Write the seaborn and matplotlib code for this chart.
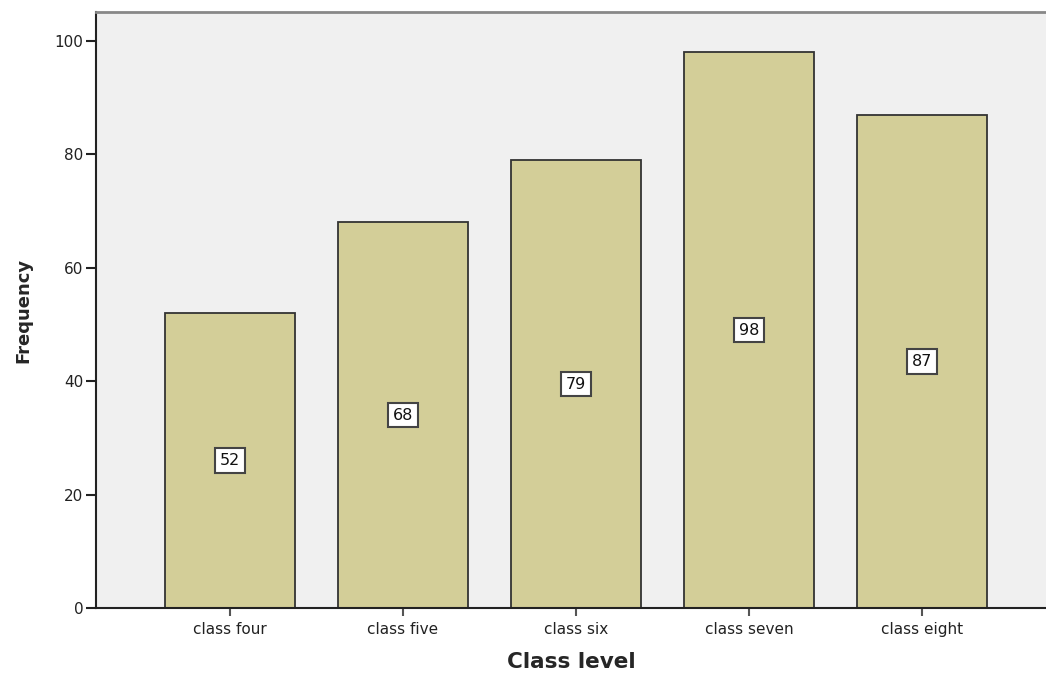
import matplotlib
matplotlib.use("Agg")
import matplotlib.pyplot as plt
import seaborn as sns
import pandas as pd

categories = ["class four", "class five", "class six", "class seven", "class eight"]
frequencies = [52, 68, 79, 98, 87]
y_ticks = [0, 20, 40, 60, 80, 100]

df = pd.DataFrame({"cls": categories, "freq": frequencies})

sns.set_style("white")
plt.rcParams["font.family"] = ["DejaVu Sans"]

fig = plt.figure(figsize=(10.46, 6.73), dpi=100)
ax = fig.add_axes([96/1046, 65/673, 950/1046, 596/673])
ax.set_facecolor("#F0F0F0")

sns.barplot(data=df, x="cls", y="freq", order=categories, color="#D3CE98",
            saturation=1, width=0.75, edgecolor="#333333", linewidth=1.3, ax=ax)

for i, v in enumerate(frequencies):
    ax.text(i, v / 2, str(v), ha="center", va="center", fontsize=11.5, color="#111111",
            bbox=dict(boxstyle="square,pad=0.3", facecolor="white", edgecolor="#444444", linewidth=1.5))

ax.set_xlim(-0.775, 4.717)
ax.set_ylim(0, 105.1)
ax.set_yticks(y_ticks)
ax.tick_params(axis="y", direction="out", length=7, width=1.5, color="#222222", labelsize=11, pad=2, left=True)
ax.tick_params(axis="x", direction="out", length=6, width=1.5, color="#555555", labelsize=11, pad=4, bottom=True)
for lab in ax.get_xticklabels() + ax.get_yticklabels():
    lab.set_color("#222222")

ax.set_xlabel("Class level", fontsize=15.5, fontweight="bold", labelpad=11)
ax.set_ylabel("Frequency", fontsize=13, fontweight="bold", labelpad=16)

for s in ["left", "bottom"]:
    ax.spines[s].set_color("#222222")
    ax.spines[s].set_linewidth(1.5)
ax.spines["top"].set_color("#888888")
ax.spines["top"].set_linewidth(2)
ax.spines["right"].set_visible(False)

fig.savefig("out.png", dpi=100)
